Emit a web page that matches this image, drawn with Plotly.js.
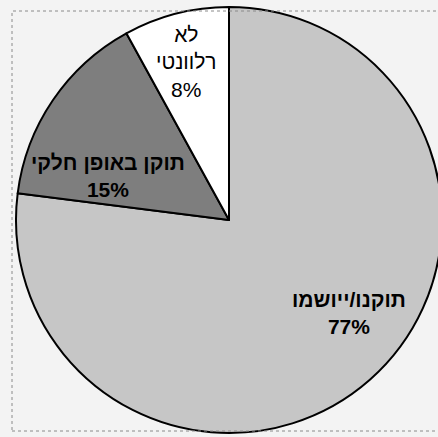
<!DOCTYPE html>
<html>
<head>
<meta charset="utf-8">
<script src="https://cdn.plot.ly/plotly-3.0.1.min.js"></script>
<style>
html,body{margin:0;padding:0;overflow:hidden;background:#f3f3f3;}
#chart{width:460px;height:437px;}
</style>
</head>
<body>
<div id="chart"></div>
<script>
const labels = ['תוקנו/ייושמו', 'תוקן באופן חלקי', 'לא<br>רלוונטי'];
const values = [77, 15, 8];
const colors = ['#c6c6c6', '#7e7e7e', '#ffffff'];

const W = 460, H = 437;
// label anchor positions (pixels) and weight, layout only
const labelPos = [[349, 313], [108, 176], [186, 62]];
const labelBold = [true, true, false];

const trace = {
  type: 'pie',
  labels: labels,
  values: values,
  sort: false,
  direction: 'clockwise',
  rotation: 0,
  marker: {colors: colors, line: {color: '#000000', width: 2}},
  textposition: 'none',
  hoverinfo: 'none',
  showlegend: false,
  domain: {x: [16 / W, 442 / W], y: [(H - 433) / H, (H - 7) / H]}
};

const annotations = labels.map((lab, i) => {
  let t = lab + '<br>' + values[i] + '%';
  if (labelBold[i]) t = '<b>' + t + '</b>';
  return {
    xref: 'paper', yref: 'paper',
    x: labelPos[i][0] / W, y: 1 - labelPos[i][1] / H,
    xanchor: 'center', yanchor: 'middle',
    showarrow: false, align: 'center',
    text: t,
    font: {family: 'Liberation Sans, Arial, sans-serif', size: 21, color: '#000000'}
  };
});

const layout = {
  width: W,
  height: H,
  margin: {l: 0, r: 0, t: 0, b: 0},
  paper_bgcolor: '#f3f3f3',
  plot_bgcolor: '#f3f3f3',
  showlegend: false,
  annotations: annotations,
  shapes: [{
    type: 'rect', xref: 'paper', yref: 'paper',
    x0: 12 / W, x1: 1.1, y0: (H - 431) / H, y1: (H - 11) / H,
    line: {color: '#8a8a8a', width: 1, dash: 'dot'}
  }]
};

Plotly.newPlot('chart', [trace], layout, {displayModeBar: false, staticPlot: true});
</script>
</body>
</html>
